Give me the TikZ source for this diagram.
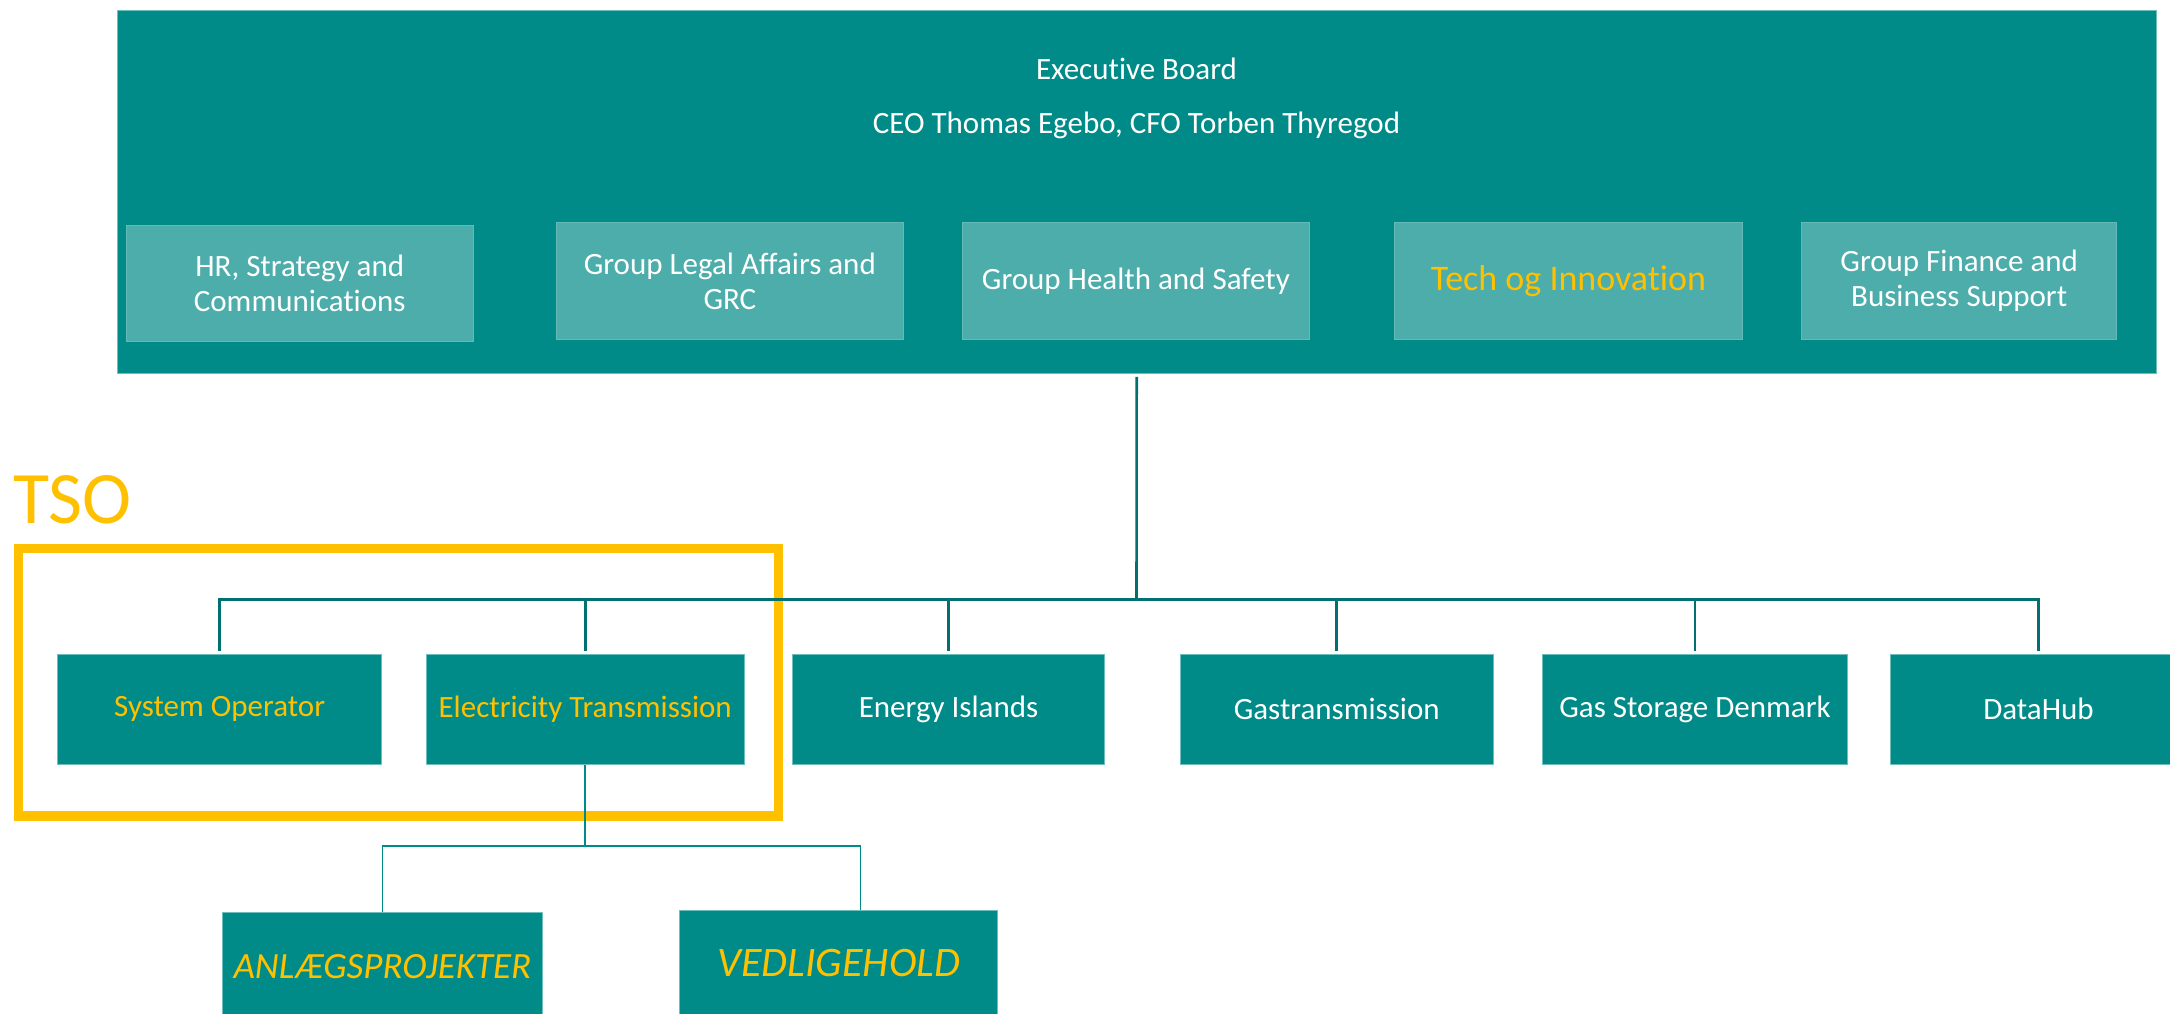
\documentclass[tikz,border=0pt]{standalone}
\usepackage{fontspec}
\setmainfont{Carlito}[Ligatures={NoCommon}]
\definecolor{boardteal}{RGB}{0,139,136}
\definecolor{subteal}{RGB}{77,173,171}
\definecolor{edgeteal}{RGB}{110,192,190}
\definecolor{lineteal}{RGB}{0,112,112}
\definecolor{tsoyellow}{RGB}{255,192,0}
\begin{document}
\begin{tikzpicture}[x=1pt,y=-1pt,
  boardbox/.style={fill=boardteal, draw=edgeteal, line width=1pt, inner sep=0pt},
  boardtext/.style={text=white, inner sep=0pt, anchor=base, font=\fontsize{31}{36}\selectfont},
  staffbox/.style={fill=subteal, draw=edgeteal!70!subteal, line width=1pt, inner sep=0pt,
    minimum height=116.3pt, text=white, align=center, font=\fontsize{31}{35}\selectfont},
  unitbox/.style={fill=boardteal, draw=edgeteal, line width=1pt, inner sep=0pt,
    minimum height=109.7pt, text=white, align=center, font=\fontsize{31}{35}\selectfont},
  hl/.style={text=tsoyellow},
  bus/.style={draw=lineteal, line width=2.6pt},
  subline/.style={draw=boardteal, line width=1.5pt},
  tsoframe/.style={draw=tsoyellow, line width=9.5pt}
]
\useasboundingbox (0,0) rectangle (2170,1014);
\clip (0,0) rectangle (2170,1014);

% Executive board
\node[boardbox, minimum width=2039pt, minimum height=363pt] (board) at (1136.7,191.8) {};
\node[boardtext] (eb) at (1136.5,80) {Executive Board};
\node[boardtext] (ceo) at (1136.5,134) {CEO Thomas Egebo, CFO Torben Thyregod};

% staff functions
\node[staffbox, minimum width=347pt, minimum height=116pt] (hr) at (299.75,283.7) {HR, Strategy and\\Communications};
\node[staffbox, minimum width=346.3pt] (legal) at (729.85,280.85) {Group Legal Affairs and\\GRC};
\node[staffbox, minimum width=346.2pt] (health) at (1135.9,280.85) {Group Health and Safety};
\node[staffbox, minimum width=347.3pt, font=\fontsize{36}{40}\selectfont, hl] (tech) at (1568.5,280.85) {Tech og Innovation};
\node[staffbox, minimum width=315pt] (fin) at (1959.2,280.85) {Group Finance and\\Business Support};

% TSO frame and label
\draw[tsoframe] (18.7,548.7) rectangle (778.5,816);
\node[text=tsoyellow, inner sep=0pt, anchor=base west, font=\fontsize{74}{80}\selectfont] (tso) at (13,523) {TSO};

% business units
\node[unitbox, minimum width=324pt, hl] (so) at (219.6,709.15) {System Operator};
\node[unitbox, minimum width=318.4pt, hl] (et) at (585.2,709.15) {Electricity Transmission};
\node[unitbox, minimum width=312.4pt] (ei) at (948.5,709.15) {Energy Islands};
\node[unitbox, minimum width=312.5pt] (gas) at (1336.75,709.15) {Gastransmission};
\node[unitbox, minimum width=304.3pt] (gsd) at (1695,709.15) {Gas Storage Denmark};
\node[unitbox, minimum width=295.6pt] (dh) at (2038.5,709.15) {DataHub};

% sub units
\node[unitbox, minimum width=319.2pt, minimum height=108.8pt, hl, font=\fontsize{37}{40}\selectfont\itshape] (anl) at (382.4,966.7) {ANLÆGSPROJEKTER};
\node[unitbox, minimum width=318.1pt, minimum height=106pt, hl, font=\fontsize{42}{46}\selectfont\itshape] (ved) at (838.75,963) {VEDLIGEHOLD};

% connectors
\coordinate (hub) at (1136.5,599.3);
\draw[bus] ([yshift=-3pt]board.south) -- (hub);
\foreach \n in {so,et,ei,gas,gsd,dh}
  \draw[bus] ([yshift=2.6pt]\n.north) |- (hub);

\coordinate (sub) at (585.2,846);
\coordinate (vdrop) at (860.7,910);
\draw[subline] (et.south) -- (sub);
\draw[subline] (sub) -| (anl.north);
\draw[subline] (sub) -| (vdrop);
\end{tikzpicture}
\end{document}
